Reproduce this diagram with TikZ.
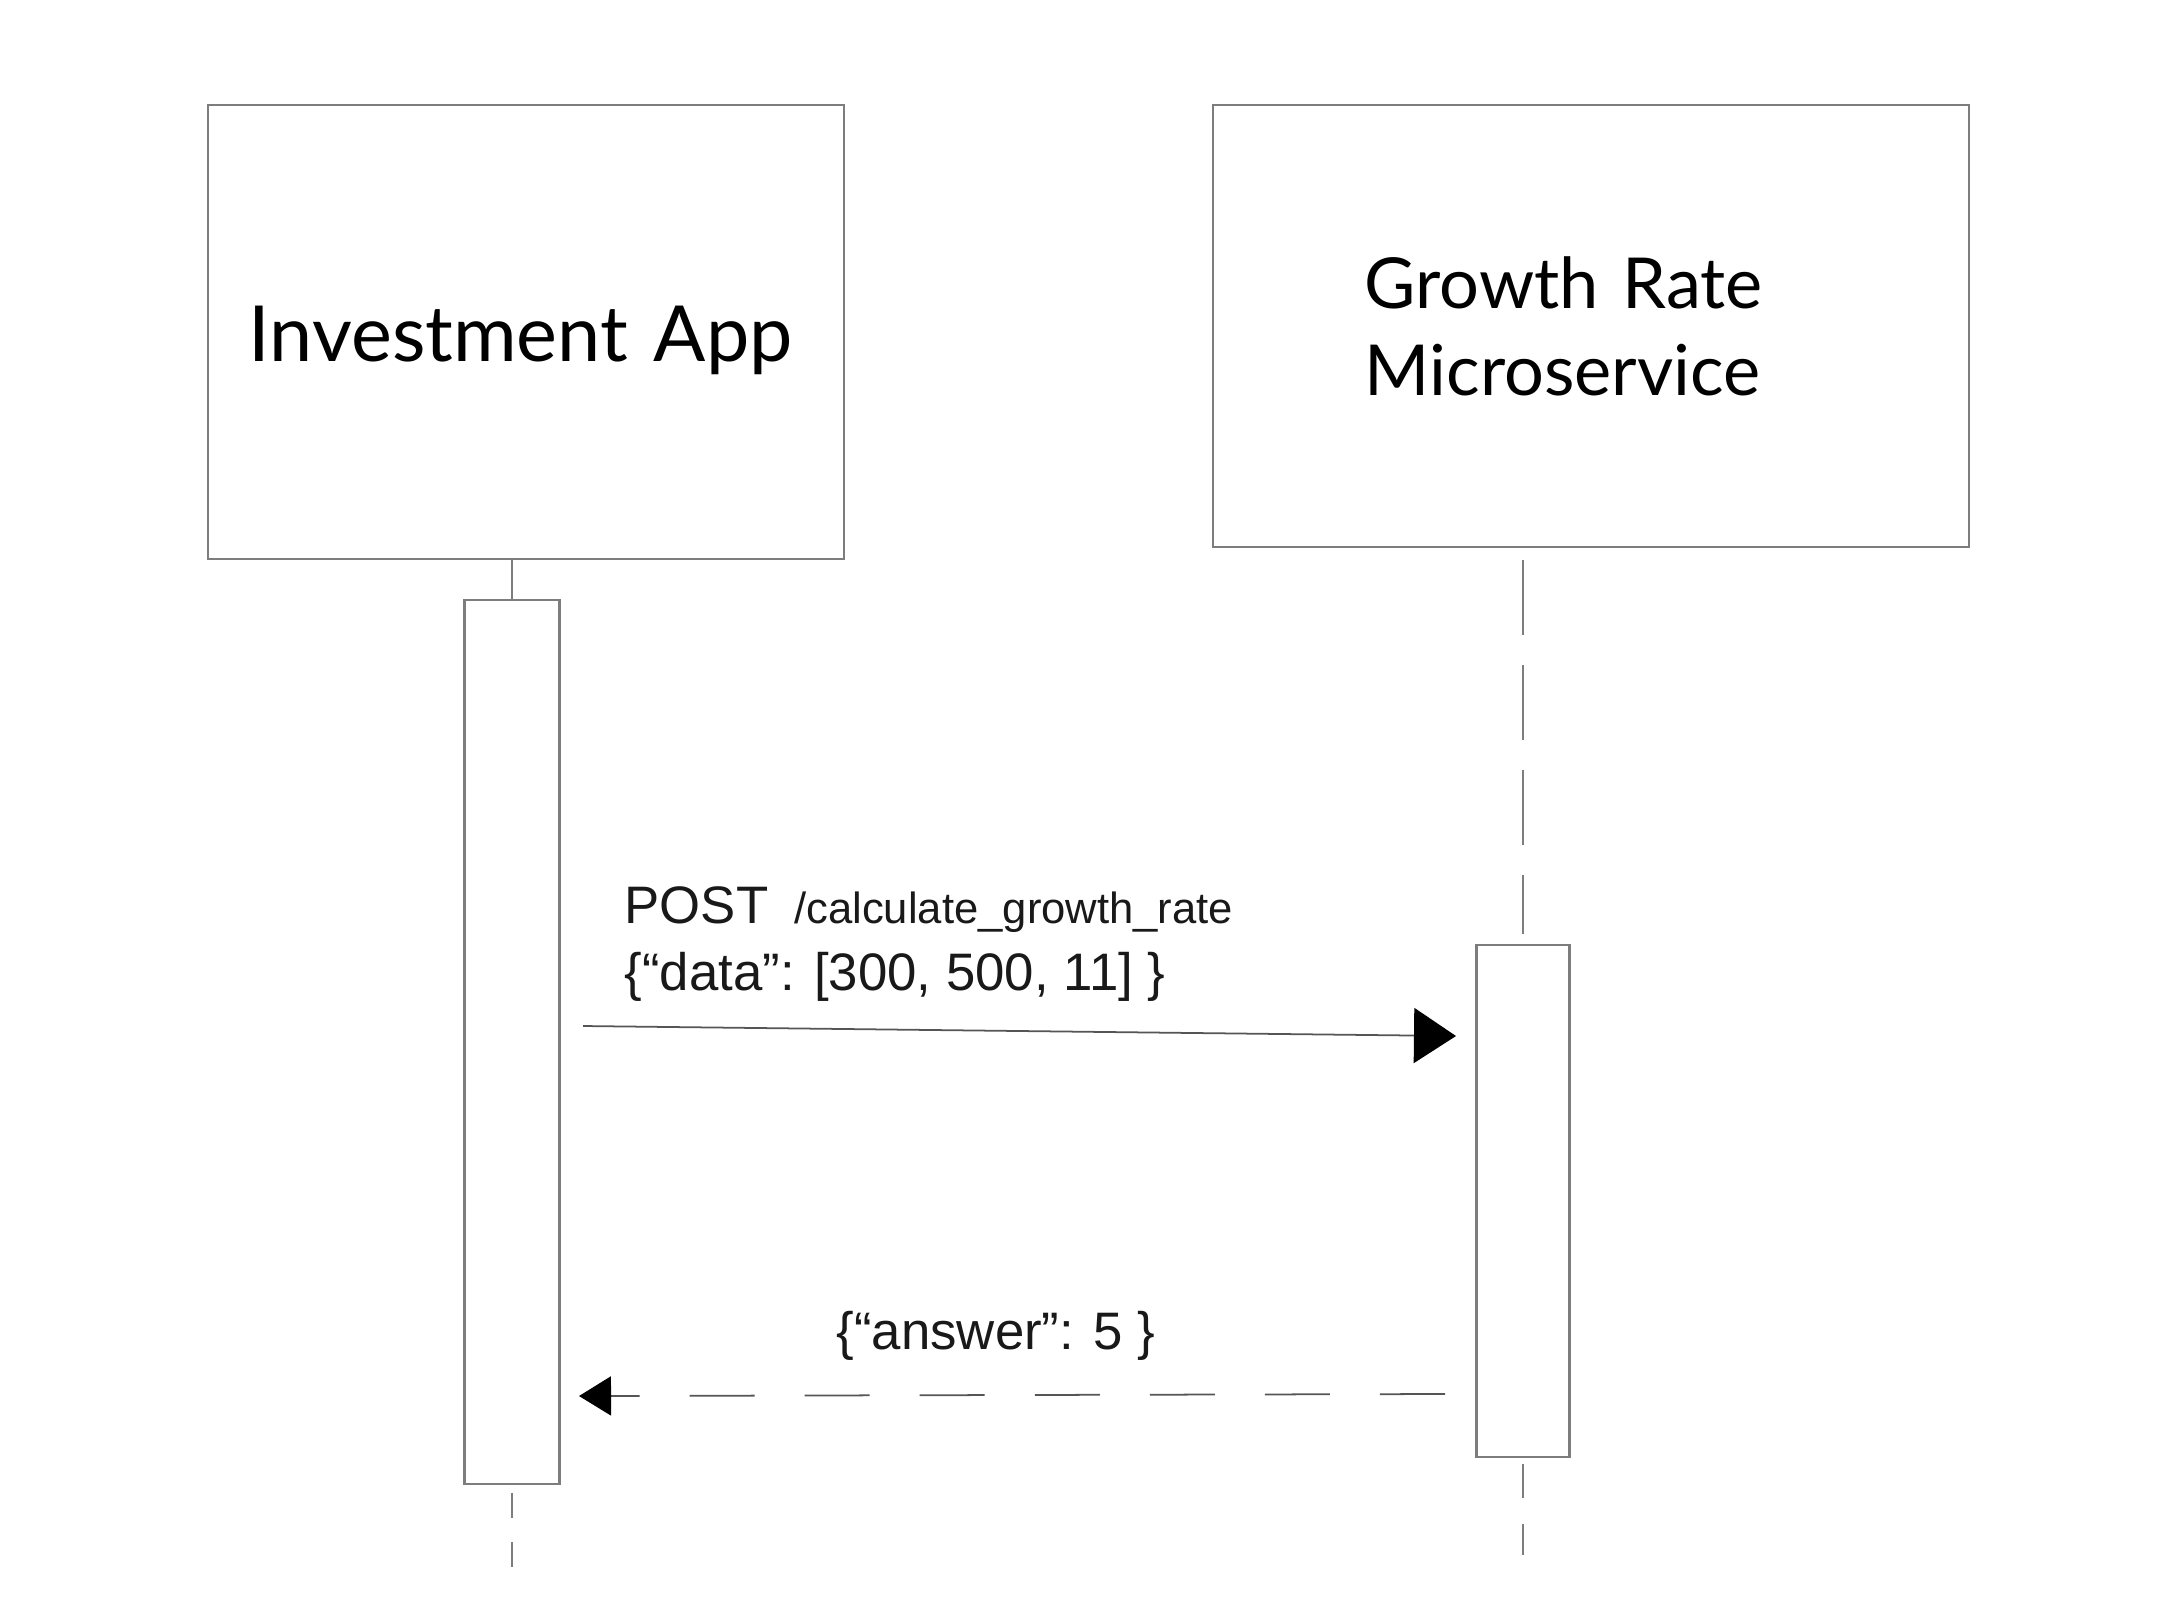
\documentclass[tikz,border=0pt]{standalone}
\usepackage{fontspec}
\setmainfont{Lato}
\newfontfamily\msgfont{Liberation Sans}
\usetikzlibrary{arrows.meta,positioning}
\definecolor{linegray}{RGB}{125,125,125}
\definecolor{arrowgray}{RGB}{85,85,85}
\tikzset{
  actor/.style={draw=linegray, line width=0.6pt, align=left, fill=white, font=\fontsize{22}{26}\selectfont},
  activation/.style={draw=linegray, line width=0.6pt, fill=white, minimum width=0.95cm},
  lifeline/.style={draw=linegray, line width=0.5pt},
  msgtext/.style={font=\msgfont\fontsize{15}{18}\selectfont, inner sep=0pt, text=black!90},
  callarrow/.style={draw=arrowgray, line width=0.5pt, -{Triangle[length=4.2mm,width=5.5mm,black]}},
  replyarrow/.style={draw=arrowgray, line width=0.5pt, dash pattern=on 6.5mm off 5mm, -{Triangle[length=3.2mm,width=3.9mm,black]}}
}

\begin{document}
\begin{tikzpicture}[x=0.01cm, y=-0.01cm]
  \useasboundingbox (0,0) rectangle (2160,1620);
  % participants
  \node[actor, minimum width=6.36cm, minimum height=4.53cm, text width=5.54cm, text height=0.72cm] (inv) at (526,332) {Investment App};
  \node[actor, minimum width=7.55cm, minimum height=4.41cm, text width=4.52cm, font=\fontsize{20}{24.7}\selectfont] (grm) at (1591,326) {Growth Rate\\Microservice};
  \node[activation, minimum height=8.83cm] (actA) at (512,1042) {};
  \node[activation, minimum width=0.93cm, minimum height=5.11cm] (actB) at (1523,1201) {};

  % lifelines
  \coordinate (endA) at (512,1576);
  \coordinate (endB) at (1523,1555);
  \draw[lifeline] (inv.south -| actA.north) -- (actA.north);
  \draw[lifeline, dash pattern=on 0.75cm off 0.3cm, shorten <=0.12cm, shorten >=0.1cm] (grm.south -| actB.north) -- (actB.north);
  \draw[lifeline, dash pattern=on 0.25cm off 0.24cm, shorten <=0.08cm] (actA.south) -- (endA);
  \draw[lifeline, dash pattern=on 0.34cm off 0.26cm, shorten <=0.06cm] (actB.south) -- (endB);

  % messages
  \coordinate (reqS) at (583,1026);
  \coordinate (reqE) at (1456,1036);
  \coordinate (resS) at (1445,1394);
  \coordinate (resE) at (579,1396);
  \draw[callarrow] (reqS) -- (reqE);
  \draw[replyarrow] (resS) -- (resE);

  \node[msgtext, anchor=base west] (reqpost) at (624,923) {POST\hspace{0.26cm}{\fontsize{12.4}{15}\selectfont /calculate\_growth\_rate}};
  \node[msgtext, anchor=base west] (reqdata) at (624,990) {\{“data”: [300, 500, 11] \}};
  \node[msgtext, anchor=base west] (resdata) at (836,1349) {\{“answer”: 5 \}};
\end{tikzpicture}
\end{document}
